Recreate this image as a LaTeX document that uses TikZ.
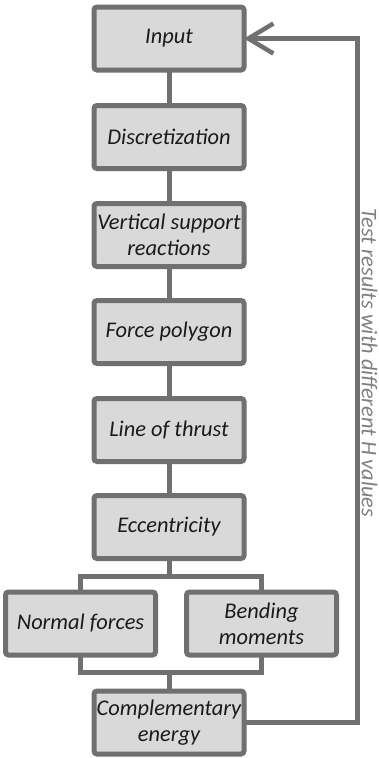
\documentclass[tikz,border=0pt]{standalone}
\usepackage{fontspec}
\setmainfont{Carlito}
\usetikzlibrary{arrows.meta}
\definecolor{edgegray}{HTML}{707070}
\definecolor{boxfill}{HTML}{D9D9D9}
\definecolor{txtgray}{HTML}{7F7F7F}
\definecolor{txtdark}{HTML}{1A1A1A}
\tikzset{
  box/.style={draw=edgegray, fill=boxfill, line width=5pt, rounded corners=3pt,
    minimum width=150pt, minimum height=63pt, inner sep=0pt, outer sep=0pt,
    align=center, text=txtdark, font=\fontsize{22.4}{26}\selectfont\itshape},
  conn/.style={draw=edgegray, line width=5pt},
  fb/.style={conn, -{Straight Barb[length=25pt,width=30pt,line width=4.5pt]}},
}
\begin{document}
\begin{tikzpicture}[x=1pt,y=-1pt]
\useasboundingbox (0,0) rectangle (379,758);
\node[box] (in) at (169,38.5) {Input};
\node[box] (di) at (169,137) {Discretization};
\node[box] (vs) at (169,235) {Vertical support\\reactions};
\node[box] (fp) at (169,332) {Force polygon};
\node[box] (lt) at (169,430) {Line of thrust};
\node[box] (ec) at (169,527) {Eccentricity};
\node[box] (nf) at (80.5,623.5) {Normal forces};
\node[box] (bm) at (261.5,623.5) {Bending\\moments};
\node[box] (ce) at (169,722.5) {Complementary\\energy};
\coordinate (s1) at (169,576);
\coordinate (s2) at (169,672);
\coordinate (fbx) at (357,400);
\draw[conn] (in) -- (di);
\draw[conn] (di) -- (vs);
\draw[conn] (vs) -- (fp);
\draw[conn] (fp) -- (lt);
\draw[conn] (lt) -- (ec);
\draw[conn] (ec.south) -- (s1);
\draw[conn] (nf.north) |- (s1) -| (bm.north);
\draw[conn] (nf.south) |- (s2) -| (bm.south);
\draw[conn] (s2) -- (ce.north);
\draw[fb] (ce.east) -| (fbx |- in.east) -- (in.east);
\node[rotate=-90, text=txtgray, font=\fontsize{22.3}{26}\selectfont\itshape] (lbl) at (369.5,363) {Test results with different H values};
\end{tikzpicture}
\end{document}
